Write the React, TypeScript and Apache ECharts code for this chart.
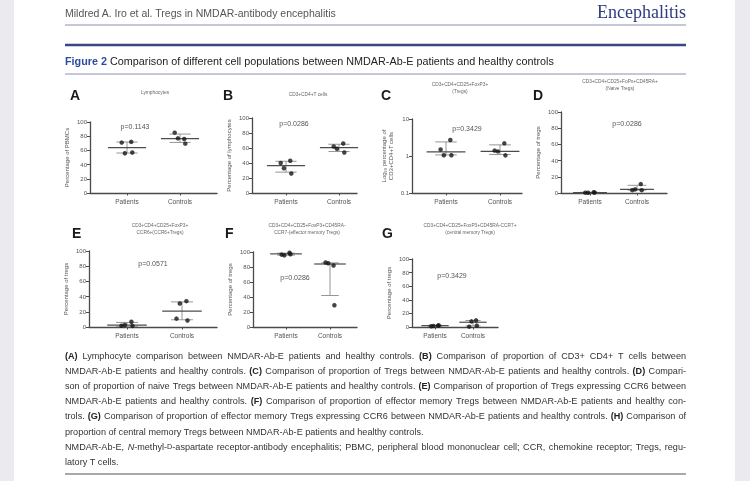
import React, { useEffect, useRef } from "react";
import * as echarts from "echarts";

// ---------- data ----------
const categories = ["Patients", "Controls"];

const aPatients = [71, 72, 56, 57];
const aControls = [85, 76, 77, 69.5];
const aMedian = [64, 76.5];
const aQ1 = [56.3, 71.2];
const aQ3 = [71.8, 83];

const bPatients = [40, 43, 33, 26];
const bControls = [62, 66, 59, 54];
const bMedian = [36.5, 60.5];
const bQ1 = [27.8, 55.3];
const bQ3 = [42.3, 65];

const cPatients = [1.5, 2.7, 1.05, 1.05];
const cControls = [1.4, 2.2, 1.33, 1.04];
const cMedian = [1.3, 1.33];
const cQ1 = [1.07, 1.1];
const cQ3 = [2.4, 2.0];

const dPatients = [0.4, 1, 0.3, 0.5];
const dControls = [3.5, 11, 4.5, 3.5];
const dMedian = [0.5, 4.5];
const dQ1 = [0.3, 3.5];
const dQ3 = [0.9, 9.5];

const ePatients = [1.7, 7, 2.6, 1.5];
const eControls = [11, 34, 31, 8.5];
const eMedian = [2.5, 21];
const eQ1 = [0.5, 9.5];
const eQ3 = [6, 33];

const fPatients = [96.5, 99, 95.5, 97];
const fControls = [86, 82, 85, 29];
const fMedian = [97.5, 84];
const fQ1 = [95.8, 42];
const fQ3 = [98.5, 85.5];

const gPatients = [1, 2, 1.5, 2.4];
const gControls = [0.5, 9.8, 8.3, 2];
const gMedian = [2, 7];
const gQ1 = [1, 1.5];
const gQ3 = [2.4, 9.5];

const pValues = ["p=0.1143", "p=0.0286", "p=0.3429", "p=0.0286", "p=0.0571", "p=0.0286", "p=0.3429"];
const panelLetters = ["A", "B", "C", "D", "E", "F", "G"];
const panelTitles = [
  "Lymphocytes",
  "CD3+CD4+T cells",
  "CD3+CD4+CD25+FoxP3+\n(Tregs)",
  "CD3+CD4+CD25+FoPx+CD45RA+\n(Naive Tregs)",
  "CD3+CD4+CD25+FoxP3+\nCCR6+(CCR6+Tregs)",
  "CD3+CD4+CD25+FoxP3+CD45RA-\nCCR7-(effector memory Tregs)",
  "CD3+CD4+CD25+FoxP3+CD45RA-CCR7+\n(central memory Tregs)",
];
const yNames = [
  "Percentage of PBMCs",
  "Percentage of lymphocytes",
  "Log\u2081\u2080 percentage of\nCD3+CD4+T cells",
  "Percentage of tregs",
  "Percentage of tregs",
  "Percentage of tregs",
  "Percentage of tregs",
];
const linearTicks = [0, 20, 40, 60, 80, 100];
const logTicks = [0.1, 1, 10];

const headerText = "Mildred A. Iro et al. Tregs in NMDAR-antibody encephalitis";
const journalName = "Encephalitis";
const figureLabel = "Figure 2";
const figureTitle = " Comparison of different cell populations between NMDAR-Ab-E patients and healthy controls";
const captionLines = [
  "{b|(A)} Lymphocyte comparison between NMDAR-Ab-E patients and healthy controls. {b|(B)} Comparison of proportion of CD3+ CD4+ T cells between",
  "NMDAR-Ab-E patients and healthy controls. {b|(C)} Comparison of proportion of Tregs between NMDAR-Ab-E patients and healthy controls. {b|(D)} Compari-",
  "son of proportion of naive Tregs between NMDAR-Ab-E patients and healthy controls. {b|(E)} Comparison of proportion of Tregs expressing CCR6 between",
  "NMDAR-Ab-E patients and healthy controls. {b|(F)} Comparison of proportion of effector memory Tregs between NMDAR-Ab-E patients and healthy con-",
  "trols. {b|(G)} Comparison of proportion of effector memory Tregs expressing CCR6 between NMDAR-Ab-E patients and healthy controls. {b|(H)} Comparison of",
  "proportion of central memory Tregs between NMDAR-Ab-E patients and healthy controls.",
  "NMDAR-Ab-E, {i|N}-methyl-{s|D}-aspartate receptor-antibody encephalitis; PBMC, peripheral blood mononuclear cell; CCR, chemokine receptor; Tregs, regu-",
  "latory T cells.",
];
const captionJustified = [true, true, true, true, true, false, true, false];

const panels = [
  { patients: aPatients, controls: aControls, median: aMedian, q1: aQ1, q3: aQ3, log: false },
  { patients: bPatients, controls: bControls, median: bMedian, q1: bQ1, q3: bQ3, log: false },
  { patients: cPatients, controls: cControls, median: cMedian, q1: cQ1, q3: cQ3, log: true },
  { patients: dPatients, controls: dControls, median: dMedian, q1: dQ1, q3: dQ3, log: false },
  { patients: ePatients, controls: eControls, median: eMedian, q1: eQ1, q3: eQ3, log: false },
  { patients: fPatients, controls: fControls, median: fMedian, q1: fQ1, q3: fQ3, log: false },
  { patients: gPatients, controls: gControls, median: gMedian, q1: gQ1, q3: gQ3, log: false },
];

// ---------- layout (pixels) ----------
const layouts = [
  { left: 90, top: 122, bottom: 193, right: 217, patX: 127, conX: 180, letter: [70, 95], title: [155, 92], p: [135, 126] },
  { left: 252, top: 118, bottom: 193, right: 357, patX: 286, conX: 339, letter: [223, 95], title: [308, 94], p: [294, 123] },
  { left: 412, top: 119, bottom: 193, right: 522, patX: 446, conX: 500, letter: [381, 95], title: [460, 88], p: [467, 128] },
  { left: 561, top: 112, bottom: 193, right: 667, patX: 590, conX: 637, letter: [533, 95], title: [620, 85], p: [627, 123] },
  { left: 89, top: 251, bottom: 327, right: 217, patX: 127, conX: 182, letter: [72, 233], title: [160, 229], p: [153, 263] },
  { left: 253, top: 252, bottom: 327, right: 357, patX: 286, conX: 330, letter: [225, 233], title: [307, 229], p: [295, 277] },
  { left: 412, top: 259, bottom: 327, right: 498, patX: 435, conX: 473, letter: [382, 233], title: [470, 229], p: [452, 275] },
];
const JITTER = [-0.1, 0.08, -0.04, 0.1];
const SANS = "'Liberation Sans', Arial, sans-serif";
const AXIS_COLOR = "#4a4a4a";
const CAP_SIZE = 9.1;
const CAP_LEFT = 65;
const CAP_RIGHT = 686;

type Piece = { text: string; style: string };

function parseWords(line: string): Piece[][] {
  const segs: Piece[] = [];
  const re = /\{(\w)\|([^}]*)\}|([^{]+)/g;
  let m: RegExpExecArray | null;
  while ((m = re.exec(line))) {
    if (m[1]) segs.push({ style: m[1], text: m[2] });
    else segs.push({ style: "", text: m[3] });
  }
  const words: Piece[][] = [];
  let cur: Piece[] = [];
  segs.forEach((s) => {
    const parts = s.text.split(" ");
    parts.forEach((p, idx) => {
      if (idx > 0) {
        if (cur.length) words.push(cur);
        cur = [];
      }
      if (p.length) cur.push({ text: p, style: s.style });
    });
  });
  if (cur.length) words.push(cur);
  return words;
}

export default function App() {
  const ref = useRef<HTMLDivElement>(null);
  useEffect(() => {
    if (!ref.current) return;
    const chart = echarts.init(ref.current, null, { renderer: "svg", width: 750, height: 481 });

    const ctx = document.createElement("canvas").getContext("2d") as CanvasRenderingContext2D;
    const fontOf = (style: string) => {
      if (style === "b") return `bold ${CAP_SIZE}px ${SANS}`;
      if (style === "i") return `italic ${CAP_SIZE}px ${SANS}`;
      if (style === "s") return `${CAP_SIZE * 0.8}px ${SANS}`;
      return `${CAP_SIZE}px ${SANS}`;
    };
    const measure = (p: Piece) => {
      ctx.font = fontOf(p.style);
      return ctx.measureText(p.text).width;
    };
    ctx.font = fontOf("");
    const spaceW = ctx.measureText(" ").width;

    const grid: any[] = [];
    const xAxis: any[] = [];
    const yAxis: any[] = [];
    const series: any[] = [];
    const graphic: any[] = [];

    // page background
    graphic.push({ type: "rect", shape: { x: 0, y: 0, width: 750, height: 481 }, style: { fill: "#ebebef" }, z: -10 });
    graphic.push({ type: "rect", shape: { x: 14, y: 0, width: 721, height: 481 }, style: { fill: "#ffffff" }, z: -9 });

    // header
    graphic.push({ type: "text", x: 65, y: 13, style: { text: headerText, fontSize: 10.5, fontFamily: SANS, fill: "#555", textVerticalAlign: "middle" } });
    graphic.push({ type: "text", x: 686, y: 12, style: { text: journalName, fontSize: 18, fontFamily: "'Liberation Serif', serif", fill: "#2f3b7e", textAlign: "right", textVerticalAlign: "middle" } });
    graphic.push({ type: "line", shape: { x1: 65, y1: 25, x2: 686, y2: 25 }, style: { stroke: "#8b90b3", lineWidth: 1 } });
    graphic.push({ type: "line", shape: { x1: 65, y1: 45, x2: 686, y2: 45 }, style: { stroke: "#3c4686", lineWidth: 2.5 } });
    graphic.push({
      type: "text", x: 65, y: 61,
      style: {
        text: "{f|" + figureLabel + "}" + figureTitle,
        fontSize: 10.8, fontFamily: SANS, fill: "#222", textVerticalAlign: "middle",
        rich: { f: { fontSize: 10.8, fontFamily: SANS, fontWeight: "bold", fill: "#2d4d9c", color: "#2d4d9c" } },
      },
    });
    graphic.push({ type: "line", shape: { x1: 65, y1: 74, x2: 686, y2: 74 }, style: { stroke: "#8b90b3", lineWidth: 1 } });

    panels.forEach((pn, i) => {
      const l = layouts[i];
      const unit = l.conX - l.patX;
      grid.push({ left: l.left, top: l.top, width: l.right - l.left, height: l.bottom - l.top, outerBoundsMode: "none" });
      xAxis.push({
        type: "value", gridIndex: i,
        min: 1 - (l.patX - l.left) / unit, max: 2 + (l.right - l.conX) / unit,
        splitLine: { show: false },
        axisLine: { show: true, onZero: false, lineStyle: { color: AXIS_COLOR, width: 1.3 } },
        axisTick: { show: true, customValues: [1, 2], length: 2.5, lineStyle: { color: AXIS_COLOR, width: 1 } },
        axisLabel: { customValues: [1, 2], formatter: (v: number) => categories[Math.round(v) - 1], fontSize: 6.5, color: "#555", margin: 5, fontFamily: SANS },
      });
      const yBase: any = {
        gridIndex: i,
        name: yNames[i], nameLocation: "middle", nameRotate: 90,
        nameGap: pn.log ? 18 : 20,
        nameTextStyle: { fontSize: 6, color: "#555", fontFamily: SANS, lineHeight: 7 },
        splitLine: { show: false },
        axisLine: { show: true, lineStyle: { color: AXIS_COLOR, width: 1.3 } },
        axisTick: { show: true, length: 3, lineStyle: { color: AXIS_COLOR, width: 1 } },
        axisLabel: { fontSize: 6, color: "#555", margin: 3, fontFamily: SANS },
      };
      if (pn.log) {
        yAxis.push({ ...yBase, type: "log", logBase: 10, min: logTicks[0], max: logTicks[logTicks.length - 1] });
      } else {
        yAxis.push({ ...yBase, type: "value", min: linearTicks[0], max: linearTicks[linearTicks.length - 1], interval: 20 });
      }

      // median + interquartile range
      series.push({
        type: "custom", xAxisIndex: i, yAxisIndex: i, silent: true, z: 2,
        data: [0, 1].map((k) => [k + 1, pn.median[k], pn.q1[k], pn.q3[k]]),
        renderItem: (params: any, api: any) => {
          const x = api.value(0);
          const med = api.coord([x, api.value(1)]);
          const lo = api.coord([x, api.value(2)]);
          const hi = api.coord([x, api.value(3)]);
          const mw = api.coord([x + 0.36, api.value(1)])[0] - med[0];
          const cw = api.coord([x + 0.2, api.value(1)])[0] - med[0];
          const cap = { stroke: "#8a8a8a", lineWidth: 0.9 };
          return {
            type: "group",
            children: [
              { type: "line", shape: { x1: lo[0], y1: lo[1], x2: hi[0], y2: hi[1] }, style: cap },
              { type: "line", shape: { x1: lo[0] - cw, y1: lo[1], x2: lo[0] + cw, y2: lo[1] }, style: cap },
              { type: "line", shape: { x1: hi[0] - cw, y1: hi[1], x2: hi[0] + cw, y2: hi[1] }, style: cap },
              { type: "line", shape: { x1: med[0] - mw, y1: med[1], x2: med[0] + mw, y2: med[1] }, style: { stroke: "#4d4d4d", lineWidth: 1.2 } },
            ],
          };
        },
      });
      // individual points
      series.push({
        type: "scatter", xAxisIndex: i, yAxisIndex: i, z: 3,
        symbolSize: 4.5, itemStyle: { color: "#151515" },
        data: [
          ...pn.patients.map((v, j) => [1 + JITTER[j % JITTER.length], v]),
          ...pn.controls.map((v, j) => [2 + JITTER[j % JITTER.length], v]),
        ],
      });

      graphic.push({ type: "text", x: l.letter[0], y: l.letter[1], style: { text: panelLetters[i], fontSize: 14, fontWeight: "bold", fontFamily: SANS, fill: "#1a1a1a", textVerticalAlign: "middle" } });
      graphic.push({ type: "text", x: l.title[0], y: l.title[1], style: { text: panelTitles[i], fontSize: 4.8, lineHeight: 6.5, fontFamily: SANS, fill: "#666", textAlign: "center", textVerticalAlign: "middle" } });
      graphic.push({ type: "text", x: l.p[0], y: l.p[1], style: { text: pValues[i], fontSize: 7, fontFamily: SANS, fill: "#555", textAlign: "center", textVerticalAlign: "middle" } });
    });

    // caption (justified word by word)
    const richStyles = {
      b: { fontSize: CAP_SIZE, fontFamily: SANS, fontWeight: "bold", fill: "#222", color: "#222" },
      i: { fontSize: CAP_SIZE, fontFamily: SANS, fontStyle: "italic", fill: "#333", color: "#333" },
      s: { fontSize: CAP_SIZE * 0.8, fontFamily: SANS, fill: "#333", color: "#333" },
    };
    captionLines.forEach((line, k) => {
      const words = parseWords(line);
      const widths = words.map((w) => w.reduce((s, p) => s + measure(p), 0));
      const total = widths.reduce((s, w) => s + w, 0);
      const gap = captionJustified[k] && words.length > 1 ? (CAP_RIGHT - CAP_LEFT - total) / (words.length - 1) : spaceW;
      let x = CAP_LEFT;
      words.forEach((w, j) => {
        const markup = w.map((p) => (p.style ? `{${p.style}|${p.text}}` : p.text)).join("");
        graphic.push({
          type: "text", x, y: 356 + k * 15.1,
          style: { text: markup, fontSize: CAP_SIZE, fontFamily: SANS, fill: "#333", textVerticalAlign: "middle", rich: richStyles },
        });
        x += widths[j] + gap;
      });
    });
    graphic.push({ type: "line", shape: { x1: 65, y1: 474, x2: 686, y2: 474 }, style: { stroke: "#555", lineWidth: 1.2 } });

    chart.setOption({ animation: false, grid, xAxis, yAxis, series, graphic });
    return () => chart.dispose();
  }, []);
  return <div ref={ref} style={{ position: "fixed", left: 0, top: 0, width: 750, height: 481 }} />;
}
